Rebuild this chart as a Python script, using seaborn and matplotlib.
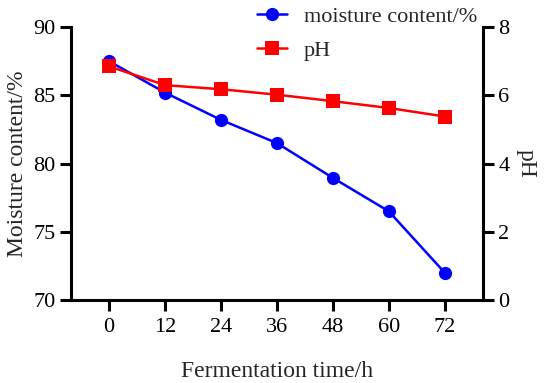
import numpy as np
import pandas as pd
import matplotlib
matplotlib.use('Agg')
import matplotlib.pyplot as plt
import seaborn as sns

# values
time_h = [0, 12, 24, 36, 48, 60, 72]
moisture = [87.5, 85.2, 83.2, 81.5, 78.95, 76.5, 72.0]
moisture_err = [0.12, 0.1, 0.1, 0.1, 0.15, 0.1, 0.3]
ph = [6.85, 6.3, 6.18, 6.02, 5.83, 5.63, 5.38]
ph_err = [0.05, 0.04, 0.04, 0.04, 0.04, 0.04, 0.05]

df = pd.DataFrame({'time': time_h, 'moisture': moisture, 'ph': ph})

sns.set_style('ticks')
plt.rcParams['font.family'] = ['Liberation Serif', 'DejaVu Serif']
plt.rcParams['font.size'] = 16

fig = plt.figure(figsize=(5.5, 3.83), dpi=100)
ax = fig.add_axes([0.129, 0.217, 0.749, 0.712])
ax2 = ax.twinx()

ax.errorbar(df['time'], df['moisture'], yerr=moisture_err, fmt='none',
            ecolor='#808080', elinewidth=1, capsize=3, zorder=2)
sns.lineplot(data=df, x='time', y='moisture', ax=ax, color='#0000FF',
             marker='o', markersize=9.5, markeredgewidth=0, linewidth=1.8,
             label='moisture content/%', legend=False, zorder=3)

ax2.errorbar(df['time'], df['ph'], yerr=ph_err, fmt='none',
             ecolor='#808080', elinewidth=1, capsize=3, zorder=2)
sns.lineplot(data=df, x='time', y='ph', ax=ax2, color='#FF0000',
             marker='s', markersize=9.5, markeredgewidth=0, linewidth=1.8,
             label='pH', legend=False, zorder=3)

ax.set_xlim(-8.2, 80.2)
ax.set_ylim(70, 90)
ax2.set_ylim(0, 8)
ax.set_xticks(time_h)
ax.set_yticks([70, 75, 80, 85, 90])
ax2.set_yticks([0, 2, 4, 6, 8])

ax.set_xlabel('Fermentation time/h', labelpad=17, fontsize=17)
ax.set_ylabel('Moisture content/%', labelpad=4, fontsize=17)
ax2.set_ylabel('pH', rotation=-90, labelpad=20, fontsize=17)

for a in (ax, ax2):
    a.spines['top'].set_visible(False)
    for s in a.spines.values():
        s.set_linewidth(2.2)
        s.set_color('black')
    a.tick_params(width=2.2, length=8, direction='out', colors='black', pad=3)
ax.tick_params(axis='x', pad=5)
ax.spines['right'].set_visible(False)
ax2.spines['left'].set_visible(False)
ax2.spines['bottom'].set_visible(False)

h1, l1 = ax.get_legend_handles_labels()
h2, l2 = ax2.get_legend_handles_labels()
fig.legend(h1 + h2, l1 + l2, loc='upper left', bbox_to_anchor=(0.431, 1.035),
           frameon=False, handlelength=1.35, handletextpad=0.75, labelspacing=0.6,
           fontsize=16)

fig.savefig('out.png', dpi=100)
